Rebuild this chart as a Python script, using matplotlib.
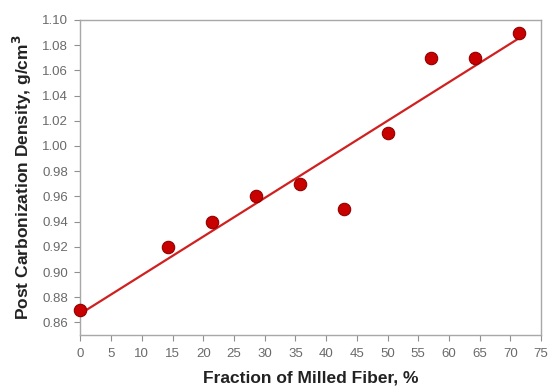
import numpy as np
import matplotlib
matplotlib.use("Agg")
import matplotlib.pyplot as plt

plt.rcParams['font.family'] = ['Liberation Sans', 'DejaVu Sans']

fraction = [0, 14.3, 21.4, 28.6, 35.7, 42.9, 50.0, 57.1, 64.3, 71.4]
density = [0.87, 0.92, 0.94, 0.96, 0.97, 0.95, 1.01, 1.07, 1.07, 1.09]
xticks = list(range(0, 80, 5))
yticks = [0.86, 0.88, 0.90, 0.92, 0.94, 0.96, 0.98, 1.00, 1.02, 1.04, 1.06, 1.08, 1.10]

fig = plt.figure(figsize=(5.51, 3.91), dpi=100)
ax = fig.add_axes([0.146, 0.143, 0.836, 0.806])

slope, intercept = np.polyfit(fraction, density, 1)
xl = np.array([min(fraction), max(fraction)])
ax.plot(xl, slope * xl + intercept, color='#d02020', lw=1.6, zorder=2)
ax.scatter(fraction, density, s=80, color='#c80000', edgecolor='#900000', linewidth=0.8, zorder=3, clip_on=False)

ax.set_xlim(0, 75)
ax.set_ylim(0.85, 1.10)
ax.set_xticks(xticks)
ax.set_yticks(yticks)
ax.set_yticklabels([f"{v:.2f}" for v in yticks])
for s in ax.spines.values():
    s.set_color('#a8a8a8')
    s.set_linewidth(1.0)
ax.tick_params(direction='out', length=4, width=0.8, color='#909090', labelsize=9.5, labelcolor='#6a6a6a', pad=5)

ax.set_xlabel('Fraction of Milled Fiber, %', fontsize=12.5, fontweight='bold', color='#222222', labelpad=8)
ax.set_ylabel('Post Carbonization Density, g/cm$^{\\mathbf{3}}$', fontsize=12.5, fontweight='bold', color='#222222', labelpad=6)

fig.savefig('out.png', dpi=100)
